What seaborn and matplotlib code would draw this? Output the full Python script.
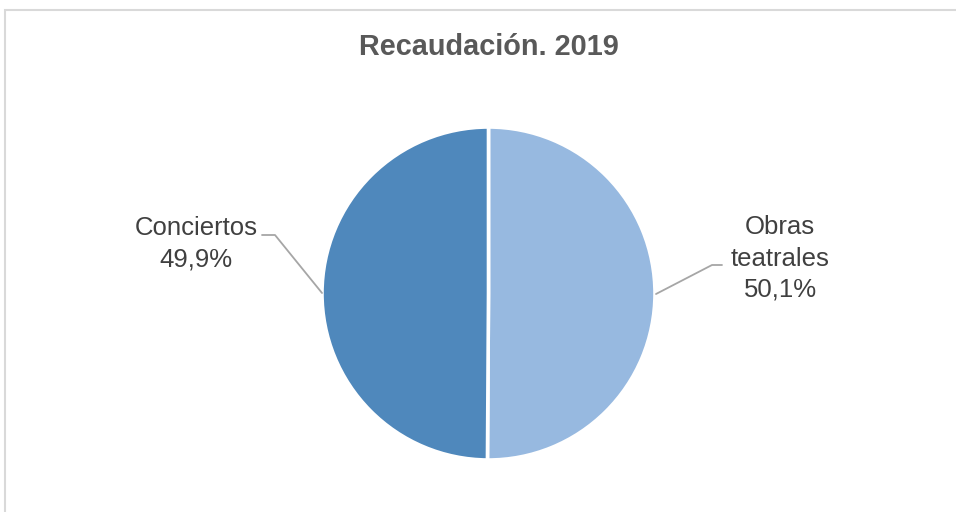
import matplotlib
matplotlib.use("Agg")
import matplotlib.pyplot as plt
from matplotlib.patches import Rectangle
import seaborn as sns

# Data
categories = ["Obras teatrales", "Conciertos"]
values = [50.1, 49.9]
label_names = ["Obras\nteatrales", "Conciertos"]
colors = ["#97B9E0", "#4F88BC"]
title = "Recaudación. 2019"

sns.set_theme(style="white")
plt.rcParams['font.family'] = ['Liberation Sans', 'DejaVu Sans']

W, H = 956, 512
fig = plt.figure(figsize=(W / 100, H / 100), dpi=100)
ax = fig.add_axes([0, 0, 1, 1])

cx, cy, r = 488.5, H - 293.5, 166.5
wedges, _ = ax.pie(values, colors=colors, startangle=90, counterclock=False,
                   center=(cx, cy), radius=r,
                   wedgeprops=dict(edgecolor="white", linewidth=2.6))
ax.set_xlim(0, W)
ax.set_ylim(0, H)
ax.set_aspect("equal")
ax.axis("off")

# chart border (light gray)
fig.patches.append(Rectangle((5 / W, -0.1), 1.2, (H - 10) / H + 0.1,
                             transform=fig.transFigure, fill=False,
                             edgecolor="#D9D9D9", linewidth=1.5))

total = sum(values)
pct = [f"{v / total * 100:.1f}".replace(".", ",") + "%" for v in values]
txtcol = "#404040"
linecol = "#A6A6A6"

# Obras teatrales label (right)
ax.text(780, H - 258.5, f"{label_names[0]}\n{pct[0]}", ha="center", va="center",
        fontsize=18.5, color=txtcol, linespacing=1.38)
ax.plot([656, 712, 722], [H - 294, H - 265, H - 265], color=linecol, lw=1.3)

# Conciertos label (left)
ax.text(196, H - 244, f"{label_names[1]}\n{pct[1]}", ha="center", va="center",
        fontsize=18.5, color=txtcol, linespacing=1.38)
ax.plot([262, 275, 322], [H - 235, H - 235, H - 293], color=linecol, lw=1.3)

ax.text(489, H - 47, title, ha="center", va="center", fontsize=20.8,
        fontweight="bold", color="#595959")

fig.savefig("out.png", dpi=100)
